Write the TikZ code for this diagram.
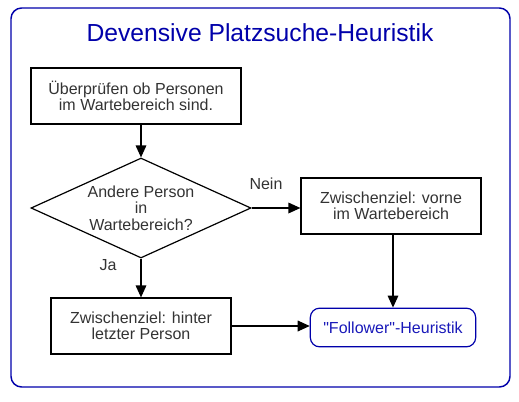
\documentclass[tikz,border=0pt]{standalone}
\usepackage{fontspec}
\setmainfont{Liberation Sans}[Ligatures=TeXOff]
\usetikzlibrary{shapes.geometric,arrows.meta}
\definecolor{frameblue}{RGB}{0,0,170}
\definecolor{labelblue}{RGB}{25,25,185}
\definecolor{textgray}{RGB}{51,51,51}
\begin{document}
\begin{tikzpicture}[x=0.75pt, y=-0.75pt,
    step box/.style = {draw, line width=0.9pt, rectangle, minimum width=135pt, minimum height=42pt, inner sep=0pt, align=center, text=textgray, font=\fontsize{12}{12}\selectfont},
    decision/.style = {draw, line width=0.9pt, diamond, minimum width=165pt, minimum height=75pt, inner sep=0pt},
    target/.style = {draw=frameblue, line width=0.9pt, rectangle, rounded corners=7pt, minimum width=124pt, minimum height=29pt, text=labelblue, font=\fontsize{12}{12}\selectfont},
    answer/.style = {text=textgray, align=center, font=\fontsize{12}{12.5}\selectfont},
    flow/.style = {draw, line width=0.9pt, -{Triangle[length=9pt,width=8pt]}}]
    \useasboundingbox (0,0) rectangle (519,401);
    \draw[frameblue, line width=1.1pt, rounded corners=8pt] (11,8) rectangle (510,387);
    \node[text=frameblue, font=\fontsize{18.5}{20}\selectfont] (title) at (260,33) {Devensive Platzsuche-Heuristik};
    \node[step box, minimum width=157.5pt] (check) at (136,96) {Überprüfen ob Personen\\im Wartebereich sind.};
    \node[decision] (other) at (141,208) {};
    \node[answer] (othertext) at (other) {Andere Person\\in\\Wartebereich?};
    \node[step box] (front) at (391,206) {Zwischenziel: vorne\\im Wartebereich};
    \node[step box] (behind) at (141,326) {Zwischenziel: hinter\\letzter Person};
    \node[target] (follow) at (393,327.5) {"Follower"-Heuristik};
    \node[answer] (no) at (266,184) {Nein};
    \node[answer] (yes) at (108,265) {Ja};
    \draw[flow] (check.south -| other.north) -- (other.north);
    \draw[flow] (other.east) -- (other.east -| front.west);
    \draw[flow] (other.south) -- (behind.north);
    \draw[flow] (front.south -| follow.north) -- (follow.north);
    \draw[flow] (behind.east) -- (behind.east -| follow.west);
\end{tikzpicture}
\end{document}
